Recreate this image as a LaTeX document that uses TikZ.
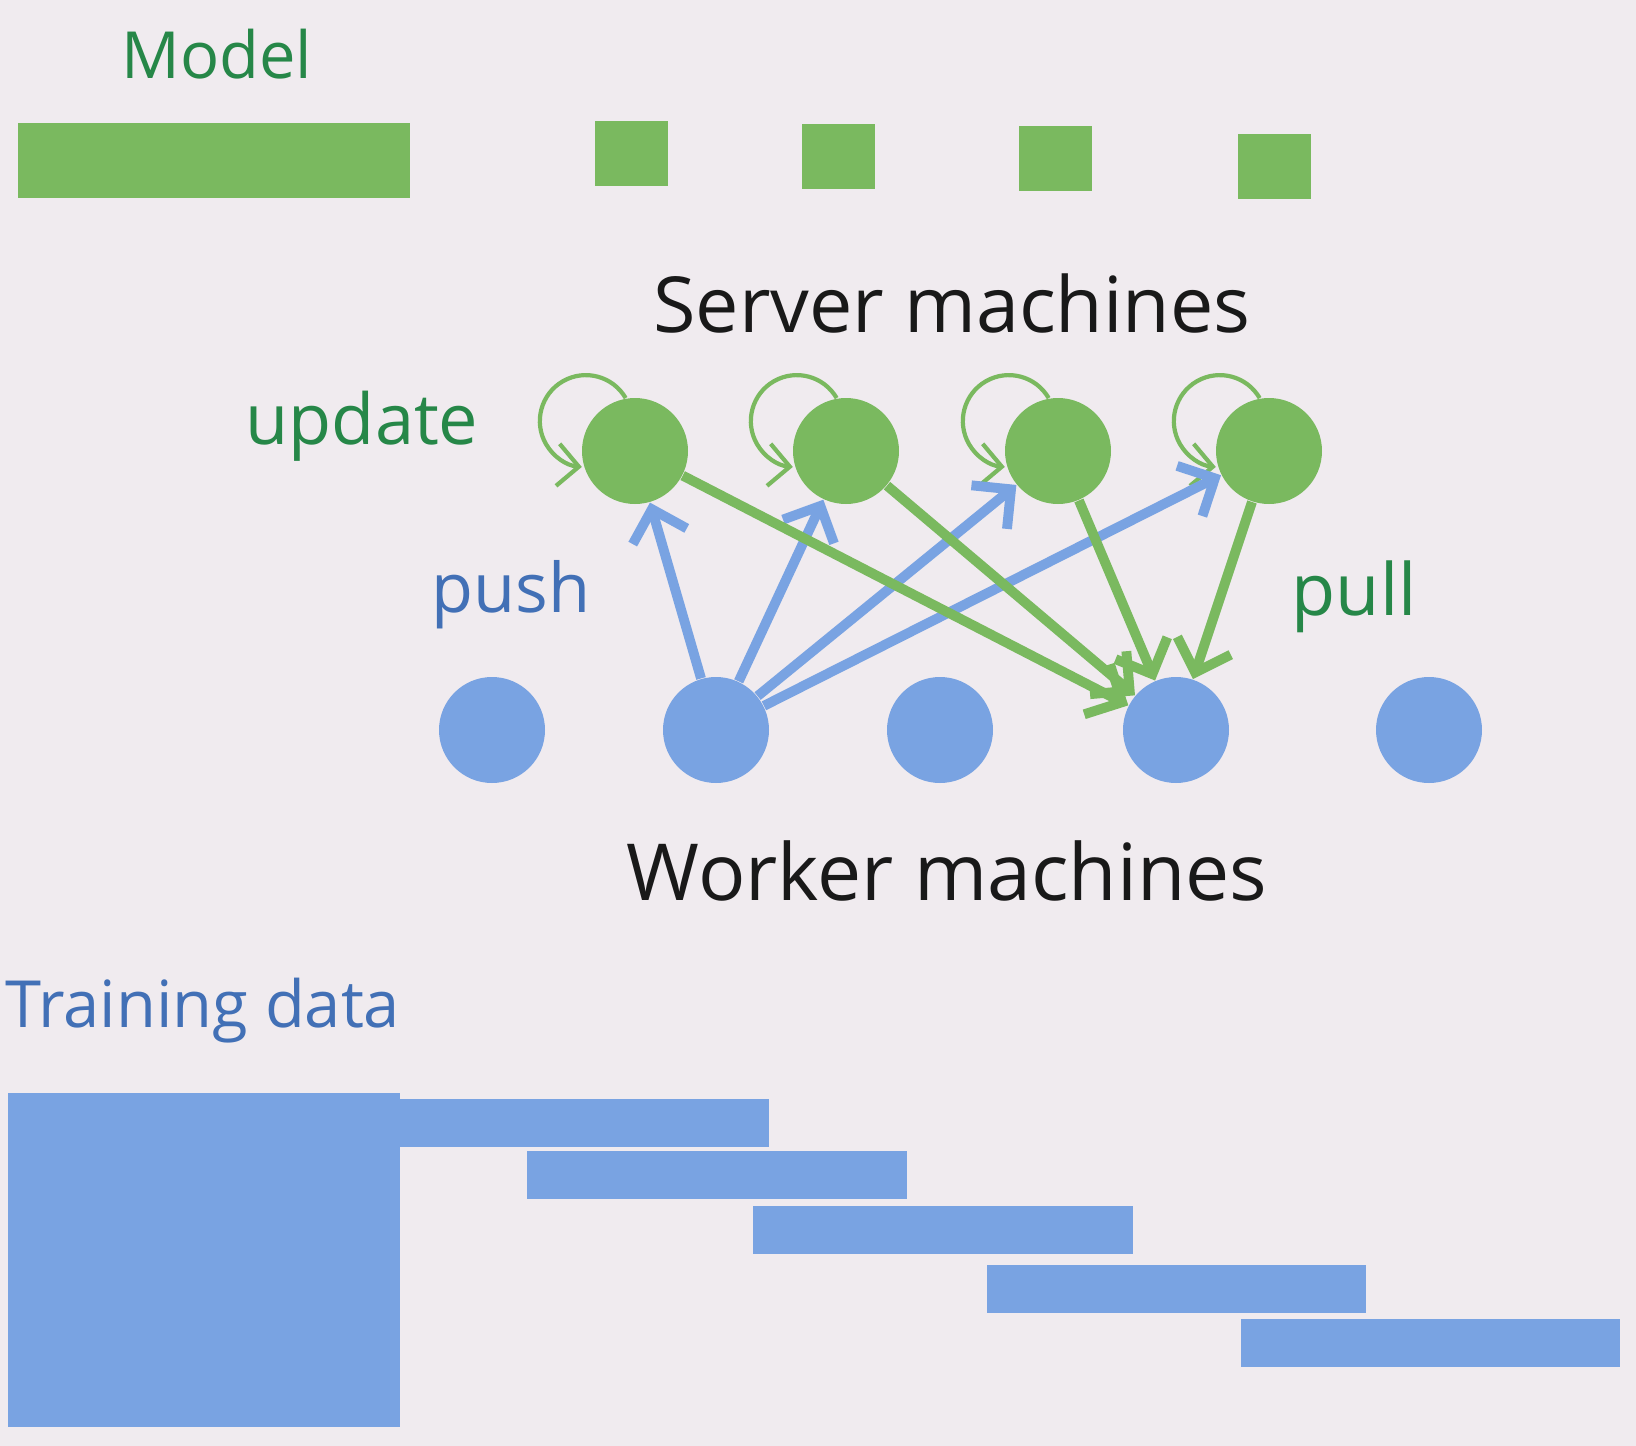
\documentclass[tikz,border=0pt]{standalone}
\usepackage{fontspec}
\setmainfont{Open Sans}
\usepackage{tikz}
\usetikzlibrary{arrows.meta,positioning,calc}

\definecolor{bgpink}{RGB}{240,235,239}
\definecolor{srvgreen}{RGB}{122,185,95}
\definecolor{wrkblue}{RGB}{121,163,226}
\definecolor{txtgreen}{RGB}{38,135,72}
\definecolor{txtblue}{RGB}{66,112,182}

\begin{document}
\begin{tikzpicture}[
    srv/.style={circle,fill=srvgreen,minimum size=1.06cm,inner sep=0pt},
    wrk/.style={circle,fill=wrkblue,minimum size=1.06cm,inner sep=0pt},
    shard/.style={fill=srvgreen,minimum width=0.73cm,minimum height=0.65cm,inner sep=0pt},
    block/.style={fill=wrkblue},
    pusharrow/.style={draw=wrkblue,line width=2.8pt,-{Straight Barb[length=8pt,width=16pt]}},
    pullarrow/.style={draw=srvgreen,line width=2.8pt,-{Straight Barb[length=8pt,width=16pt]}},
    selfloop/.style={draw=srvgreen,line width=1.2pt,-{Straight Barb[length=6pt,width=12pt]}}
  ]
  \fill[bgpink] (0,0) rectangle (16.36,-14.46);
  \useasboundingbox (0,0) rectangle (16.36,-14.46);

  % model and its shards
  \node (modeltxt) [text=txtgreen,font=\fontsize{18.5}{22}\selectfont] at (2.17,-0.54) {Model};
  \node (model) [fill=srvgreen,minimum width=3.92cm,minimum height=0.75cm,inner sep=0pt] at (2.14,-1.605) {};
  \node (m1) [shard] at (6.315,-1.535) {};
  \node (m2) [shard] at (8.385,-1.56) {};
  \node (m3) [shard] at (10.555,-1.585) {};
  \node (m4) [shard] at (12.745,-1.66) {};

  \node (srvtxt) [font=\fontsize{22}{26}\selectfont,text=black!90] at (9.52,-3.04) {Server machines};

  % servers
  \node (s1) [srv] at (6.35,-4.51) {};
  \node (s2) [srv] at (8.46,-4.51) {};
  \node (s3) [srv] at (10.58,-4.51) {};
  \node (s4) [srv] at (12.69,-4.51) {};

  % workers
  \node (w1) [wrk] at (4.92,-7.30) {};
  \node (w2) [wrk] at (7.16,-7.30) {};
  \node (w3) [wrk] at (9.40,-7.30) {};
  \node (w4) [wrk] at (11.76,-7.30) {};
  \node (w5) [wrk] at (14.29,-7.30) {};

  \node (update) [text=txtgreen,font=\fontsize{20}{24}\selectfont] at (3.62,-4.26) {update};
  \node (push) [text=txtblue,font=\fontsize{19.5}{24}\selectfont] at (5.11,-5.95) {push};
  \node (pull) [text=txtgreen,font=\fontsize{20.5}{24}\selectfont] at (13.54,-5.97) {pull};

  \node (wrktxt) [font=\fontsize{22.4}{26}\selectfont,text=black!90] at (9.47,-8.71) {Worker machines};

  % self updates
  \foreach \s in {s1,s2,s3,s4}
    \draw[selfloop] (\s.100) arc[start angle=30,end angle=265,radius=0.46];

  % push from one worker
  \foreach \s in {s1,s2,s3,s4}
    \draw[pusharrow] (w2) -- (\s);

  % pull to one worker
  \foreach \s in {s1,s2,s3,s4}
    \draw[pullarrow] (\s) -- (w4);

  % training data
  \node (datatxt) [anchor=west,inner sep=0pt,text=txtblue,font=\fontsize{18.5}{22}\selectfont] at (0.05,-10.11) {Training data};
  \fill[block] (0.08,-10.93) rectangle (4.00,-14.27);
  \fill[block] (4.00,-10.99) rectangle (7.69,-11.47);
  \fill[block] (5.27,-11.51) rectangle (9.07,-11.99);
  \fill[block] (7.53,-12.06) rectangle (11.33,-12.54);
  \fill[block] (9.87,-12.65) rectangle (13.66,-13.13);
  \fill[block] (12.41,-13.19) rectangle (16.20,-13.67);
\end{tikzpicture}
\end{document}
